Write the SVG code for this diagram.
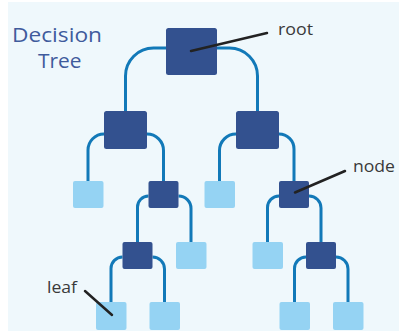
<svg xmlns="http://www.w3.org/2000/svg" width="399" height="331" viewBox="0 0 399 331">
<style>
.dark{fill:#33518f}
.leaf{fill:#95d3f3}
.conn{fill:none;stroke:#1279b8;stroke-width:3}
.ptr{stroke:#222;stroke-width:2.5;stroke-linecap:round}
.lbl{font-family:"Open Sans","Liberation Sans",sans-serif;font-size:17px;fill:#3a3a3a}
.title{font-family:"Open Sans","Liberation Sans",sans-serif;font-size:20.5px;fill:#3f5b9c}
</style>
<rect x="0" y="0" width="399" height="331" fill="#ffffff"/>
<rect x="8" y="2" width="391" height="329" fill="#eff8fc"/>
<text class="title" x="12" y="42" textLength="90" lengthAdjust="spacingAndGlyphs">Decision</text>
<text class="title" x="38" y="67.5" textLength="43.5" lengthAdjust="spacingAndGlyphs">Tree</text>
<g id="connectors">
<path class="conn" d="M166,48 H153.5 A28,28 0 0 0 125.5,76 V111"/>
<path class="conn" d="M217,48 H229.5 A28,28 0 0 1 257.5,76 V111"/>
<path class="conn" d="M104,134 A16,16 0 0 0 88,150 V181"/>
<path class="conn" d="M147,134 A16.5,16.5 0 0 1 163.5,150.5 V181"/>
<path class="conn" d="M236,134 A16.5,16.5 0 0 0 219.5,150.5 V181"/>
<path class="conn" d="M279,134 A15,15 0 0 1 294,149 V181"/>
<path class="conn" d="M148.5,196 A11,11 0 0 0 137.5,207 V242"/>
<path class="conn" d="M178.5,196 A12.5,12.5 0 0 1 191,208.5 V242"/>
<path class="conn" d="M122.5,257 A11.5,11.5 0 0 0 111,268.5 V302"/>
<path class="conn" d="M152.5,257 A12,12 0 0 1 164.5,269 V302"/>
<path class="conn" d="M279,196 A11.5,11.5 0 0 0 267.5,207.5 V242"/>
<path class="conn" d="M309,196 A12,12 0 0 1 321,208 V242"/>
<path class="conn" d="M306,257 A11.5,11.5 0 0 0 294.5,268.5 V302"/>
<path class="conn" d="M336,257 A12,12 0 0 1 348,269 V302"/>
</g>
<g id="root"><rect class="dark" x="166" y="28" width="51" height="47" rx="2.5"/></g>
<g id="node-l1"><rect class="dark" x="104" y="111" width="43" height="38" rx="2.5"/></g>
<g id="node-r1"><rect class="dark" x="236" y="111" width="43" height="38" rx="2.5"/></g>
<g id="node-n1"><rect class="dark" x="148.5" y="181" width="30" height="27" rx="2"/></g>
<g id="node-n2"><rect class="dark" x="122.5" y="242" width="30" height="27" rx="2"/></g>
<g id="node-n3"><rect class="dark" x="279" y="181" width="30" height="27" rx="2"/></g>
<g id="node-n4"><rect class="dark" x="306" y="242" width="30" height="27" rx="2"/></g>
<g id="leaf-a"><rect class="leaf" x="73" y="181" width="30.5" height="27" rx="2"/></g>
<g id="leaf-b"><rect class="leaf" x="176" y="242" width="30.5" height="27" rx="2"/></g>
<g id="leaf-c"><rect class="leaf" x="96" y="302" width="30.5" height="28" rx="2"/></g>
<g id="leaf-d"><rect class="leaf" x="149.5" y="302" width="30.5" height="28" rx="2"/></g>
<g id="leaf-e"><rect class="leaf" x="204.5" y="181" width="30.5" height="27" rx="2"/></g>
<g id="leaf-f"><rect class="leaf" x="252.5" y="242" width="30.5" height="27" rx="2"/></g>
<g id="leaf-g"><rect class="leaf" x="279.5" y="302" width="30.5" height="28" rx="2"/></g>
<g id="leaf-h"><rect class="leaf" x="333" y="302" width="30.5" height="28" rx="2"/></g>
<g id="labels">
<line class="ptr" x1="191" y1="51" x2="267" y2="33"/>
<line class="ptr" x1="295" y1="192.5" x2="345" y2="171"/>
<line class="ptr" x1="85" y1="291" x2="112" y2="315"/>
<text class="lbl" x="278" y="35" textLength="35" lengthAdjust="spacingAndGlyphs">root</text>
<text class="lbl" x="353" y="172" textLength="42" lengthAdjust="spacingAndGlyphs">node</text>
<text class="lbl" x="47" y="293" textLength="30" lengthAdjust="spacingAndGlyphs">leaf</text>
</g>
</svg>
